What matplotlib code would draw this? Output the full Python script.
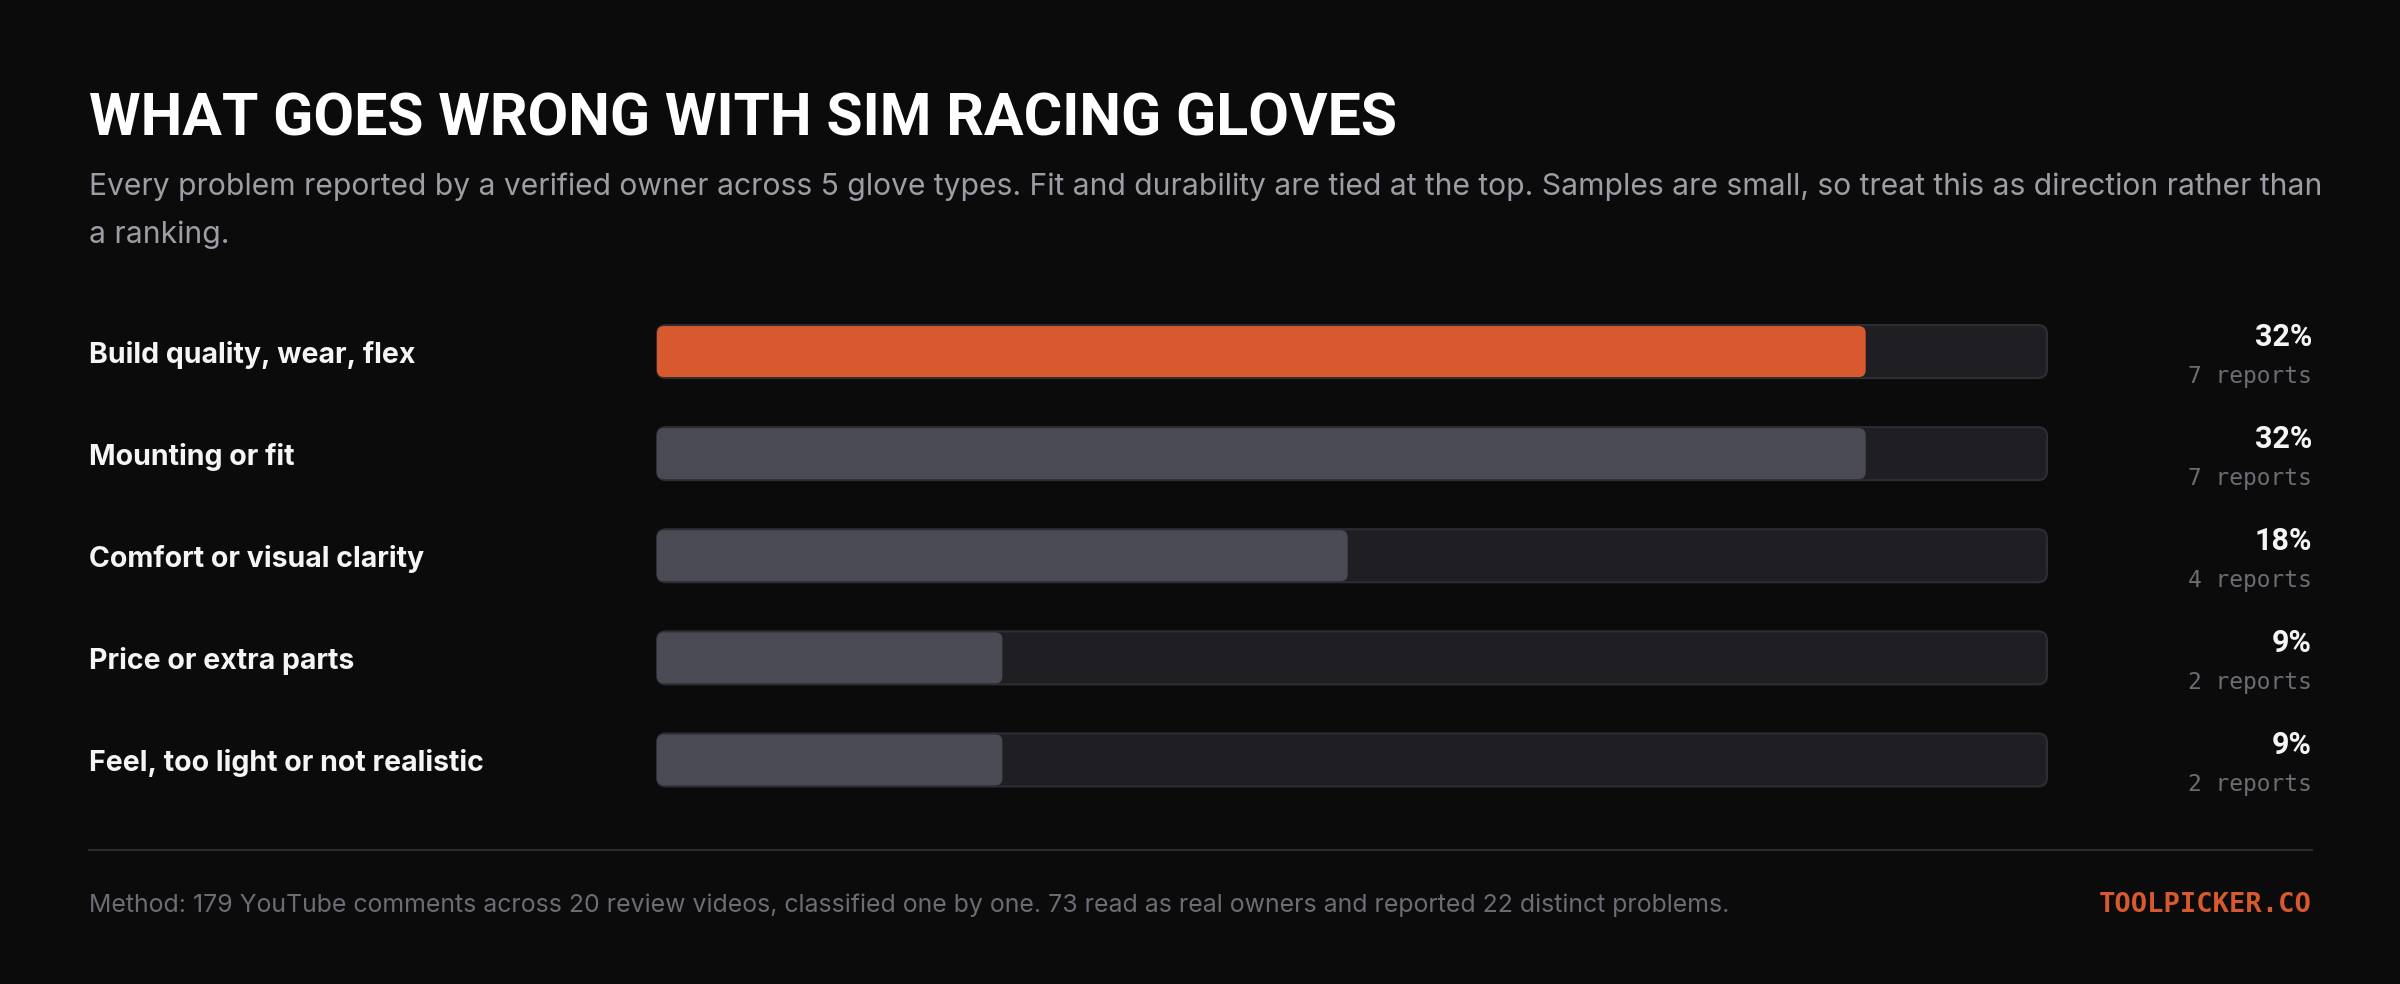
import matplotlib
matplotlib.use("Agg")
import matplotlib.pyplot as plt
from matplotlib.patches import FancyBboxPatch
from matplotlib.transforms import blended_transform_factory

# ---- Data ----
problems = [
    "Build quality, wear, flex",
    "Mounting or fit",
    "Comfort or visual clarity",
    "Price or extra parts",
    "Feel, too light or not realistic",
]
reports = [7, 7, 4, 2, 2]
total_reports = 22
highlight = [True, False, False, False, False]

title = "WHAT GOES WRONG WITH SIM RACING GLOVES"
subtitle_lines = [
    "Every problem reported by a verified owner across 5 glove types. Fit and durability are tied at the top. "
    "Samples are small, so treat this as direction rather than",
    "a ranking.",
]
footer = ("Method: 179 YouTube comments across 20 review videos, classified one by one. "
          "73 read as real owners and reported 22 distinct problems.")
brand = "TOOLPICKER.CO"

# ---- Colours ----
BG = "#0b0b0c"
TRACK = "#1f1f23"
TRACK_EDGE = "#2d2d33"
ORANGE = "#d9592e"
GREY_FILL = "#4a4a54"
WHITE = "#f5f5f6"
SUB = "#9d9da5"
MUTED = "#6c6c74"
RULE = "#2a2a30"

W, H = 2400, 984
fig = plt.figure(figsize=(24, 9.84), dpi=100)
fig.patch.set_facecolor(BG)


def fx(px):
    return px / W


def fy(py):
    return 1 - py / H


# ---- Bar axes ----
ax_left, ax_right = 657, 2047
ax_top, ax_bottom = 300.5, 811
ax = fig.add_axes([fx(ax_left), fy(ax_bottom), fx(ax_right - ax_left), (ax_bottom - ax_top) / H])
ax.set_facecolor("none")
ax.axis("off")

n = len(problems)
xmax = max(reports) * 1.15
ax.set_xlim(0, xmax)
ax.set_ylim(n - 0.5, -0.5)
ypos = list(range(n))

px_x = (ax_right - ax_left) / xmax
px_y = (ax_bottom - ax_top) / n
aspect = px_x / px_y


def round_bars(bars, radius_px, **kw):
    for rect in bars:
        x, y = rect.get_x(), rect.get_y()
        w, h = rect.get_width(), rect.get_height()
        rect.remove()
        patch = FancyBboxPatch(
            (x, y), w, h,
            boxstyle=f"round,pad=0,rounding_size={radius_px / px_x}",
            mutation_aspect=aspect, clip_on=False, **kw)
        ax.add_patch(patch)


track = ax.barh(ypos, [xmax] * n, height=53 / px_y)
round_bars(track, 9, facecolor=TRACK, edgecolor=TRACK_EDGE, linewidth=1.5)

fills = ax.barh(ypos, reports, height=51 / px_y)
for rect, hi in zip(list(fills), highlight):
    round_bars([rect], 7, facecolor=ORANGE if hi else GREY_FILL, edgecolor="none")

# ---- Row labels and values ----
tr = blended_transform_factory(fig.transFigure, ax.transData)
for i, (name, cnt) in enumerate(zip(problems, reports)):
    ax.annotate(name, xy=(fx(89), i), xycoords=tr, xytext=(0, -11), textcoords="offset pixels",
                ha="left", va="baseline", fontsize=20.5, fontweight="bold",
                family="Inter", color=WHITE)
    pct = round(100 * cnt / total_reports)
    ax.annotate(f"{pct}%", xy=(fx(2312), i), xycoords=tr, xytext=(0, 6), textcoords="offset pixels",
                ha="right", va="baseline", fontsize=22, fontweight="bold",
                family="Roboto", color=WHITE)
    ax.annotate(f"{cnt} reports", xy=(fx(2312), i), xycoords=tr, xytext=(0, -31),
                textcoords="offset pixels", ha="right", va="baseline", fontsize=16.5,
                family="DejaVu Sans Mono", color=MUTED)

# ---- Title block ----
fig.text(fx(89), fy(135), title, ha="left", va="baseline", fontsize=42.5,
         fontweight="bold", family="Roboto", color="white")
for k, line in enumerate(subtitle_lines):
    fig.text(fx(89), fy(195 + 48 * k), line, ha="left", va="baseline", fontsize=21.6,
             family="Inter", color=SUB)

# ---- Footer ----
fig.add_artist(plt.Line2D([fx(89), fx(2312)], [fy(850), fy(850)], color=RULE, linewidth=1.5))
fig.text(fx(89), fy(912), footer, ha="left", va="baseline", fontsize=17.9,
         family="Inter", color=MUTED)
fig.text(fx(2312), fy(912), brand, ha="right", va="baseline", fontsize=19.5,
         fontweight="bold", family="DejaVu Sans Mono", color=ORANGE)

fig.savefig("out.png", dpi=100, facecolor=BG)
plt.close(fig)
